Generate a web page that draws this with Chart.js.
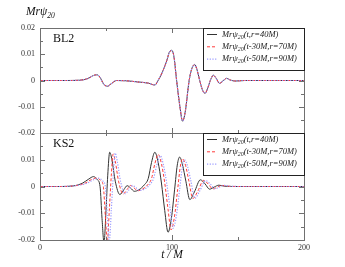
<!DOCTYPE html>
<html>
<head>
<meta charset="utf-8">
<script src="https://cdn.jsdelivr.net/npm/chart.js@4.4.1/dist/chart.umd.min.js"></script>
<style>
    body { margin: 0; background: #fff; }
    #wrap { position: relative; width: 345px; height: 267px; }
    canvas { position: absolute; left: 0; }
    #chartBL { top: 0; }
    #chartKS { top: 121px; }
</style>
</head>
<body>
<div id="wrap">
    <canvas id="chartBL" width="345" height="145"></canvas>
    <canvas id="chartKS" width="345" height="146"></canvas>
</div>
<script>
// BL2 panel: the three extractions lie on top of each other
var blTime = [0, 20, 30, 36, 40, 43, 45.5, 48, 51, 54, 58, 65, 75, 82, 87, 90, 93, 96, 98, 99.8, 101.5, 103.5, 106, 108, 110, 113, 115, 117.2, 119, 121, 123, 125, 127, 129, 131.3, 133.5, 136, 138.5, 141.3, 144, 148, 155, 170, 200];
var blR40 = [0, 0, 0.0001, 0.0007, 0.0018, 0.0022, 0.0012, -0.0012, -0.0022, -0.0012, 0, -0.0001, -0.0006, -0.001, -0.0017, 0.0005, 0.0035, 0.0075, 0.0108, 0.0115, 0.009, 0, -0.01, -0.0155, -0.012, 0, 0.0045, 0.0061, 0.004, 0, -0.0035, -0.0049, -0.003, 0, 0.002, 0.0008, -0.0011, -0.0002, 0.0008, 0.0002, -0.0002, 0, 0, 0];
var blR70 = [0, 0, 0.0001, 0.0007, 0.0018, 0.0022, 0.0012, -0.0012, -0.0022, -0.0012, 0, -0.0001, -0.0006, -0.001, -0.0017, 0.0005, 0.0035, 0.0075, 0.0107, 0.0114, 0.009, 0, -0.01, -0.0154, -0.012, 0, 0.0045, 0.006, 0.004, 0, -0.0035, -0.0049, -0.003, 0, 0.002, 0.0008, -0.0011, -0.0002, 0.0008, 0.0002, -0.0002, 0, 0, 0];
var blR90 = [0, 0, 0.0001, 0.0007, 0.0018, 0.0022, 0.0012, -0.0012, -0.0022, -0.0012, 0, -0.0001, -0.0006, -0.001, -0.0017, 0.0005, 0.0035, 0.0075, 0.0107, 0.0114, 0.009, 0, -0.01, -0.0154, -0.012, 0, 0.0045, 0.006, 0.004, 0, -0.0035, -0.0048, -0.003, 0, 0.002, 0.0008, -0.0011, -0.0002, 0.0008, 0.0002, -0.0002, 0, 0, 0];

// KS2 panel: the extractions drift apart a little
var ksTimeR40 = [0, 15, 25, 32, 37, 40.5, 43.5, 45.5, 47, 48.5, 50, 51.3, 52.8, 54.5, 57, 60.5, 63.5, 66, 68.5, 71.5, 75, 79, 82, 84.5, 87, 89.5, 92, 94.5, 97, 99.5, 102, 104, 105.8, 108, 110.5, 113.5, 117, 121.5, 125, 128.5, 132, 135.5, 140, 150, 170, 200];
var ksR40 = [0, 0, 0.0002, 0.0012, 0.0028, 0.0037, 0.0025, 0, -0.012, -0.021, -0.009, 0.004, 0.0128, 0.010, 0.002, -0.003, -0.0012, 0.0003, -0.0005, -0.0018, -0.0012, 0.0006, 0.003, 0.009, 0.0128, 0.009, 0.0013, -0.009, -0.0171, -0.012, -0.001, 0.008, 0.011, 0.008, 0.002, -0.0049, -0.002, 0.0025, 0.001, -0.001, -0.0002, 0.0005, 0.0001, 0, 0, 0];
var ksTimeR70 = [0, 15, 25, 34, 39, 43, 46, 48, 49.5, 51, 52.5, 54, 55.4, 57, 59.5, 63, 66, 68.5, 71, 74, 77.5, 81.5, 84.5, 87, 89.6, 92, 94.5, 97, 99.3, 101.8, 104.3, 106.3, 108, 110.3, 112.8, 115.8, 119.5, 124, 127.5, 131, 134.5, 138, 142.5, 152, 170, 200];
var ksR70 = [0, 0, 0.0002, 0.0012, 0.0026, 0.0032, 0.0022, 0, -0.011, -0.0205, -0.009, 0.004, 0.0122, 0.0095, 0.002, -0.0028, -0.0011, 0.0004, -0.0004, -0.0016, -0.001, 0.0006, 0.003, 0.0085, 0.012, 0.0085, 0.0013, -0.0085, -0.0162, -0.0115, -0.001, 0.0075, 0.0104, 0.0078, 0.002, -0.0045, -0.0018, 0.0023, 0.0009, -0.0009, -0.0002, 0.0004, 0.0001, 0, 0, 0];
var ksTimeR90 = [0, 15, 25, 35.5, 40.5, 44.5, 47.5, 49.5, 51, 52.5, 54, 55.5, 57, 58.5, 61, 64.5, 67.5, 70, 72.5, 75.5, 79, 83, 86, 88.5, 91.2, 93.5, 96, 98.5, 100.8, 103.3, 105.8, 107.8, 109.5, 111.8, 114.3, 117.3, 121, 125.5, 129, 132.5, 136, 139.5, 144, 153, 170, 200];
var ksR90 = [0, 0, 0.0002, 0.0012, 0.0025, 0.0031, 0.0021, 0, -0.011, -0.0205, -0.009, 0.004, 0.0125, 0.0095, 0.002, -0.0027, -0.0011, 0.0004, -0.0004, -0.0015, -0.001, 0.0006, 0.003, 0.008, 0.0115, 0.008, 0.0012, -0.008, -0.0156, -0.011, -0.001, 0.0072, 0.0100, 0.0075, 0.002, -0.0044, -0.0017, 0.0022, 0.0009, -0.0009, -0.0002, 0.0004, 0.0001, 0, 0, 0];

var seriesLabels = ['Mr\u03c820(t,r=40M)', 'Mr\u03c820(t-30M,r=70M)', 'Mr\u03c820(t-50M,r=90M)'];
var xMajor = [0, 100, 200];
var xMinor = [50, 150];
var yMajor = [-0.02, -0.01, 0, 0.01, 0.02];
var yMinor = [-0.015, -0.005, 0.005, 0.015];

var serif = '"Liberation Serif", "Times New Roman", serif';

function pairs(t, v) {
    var out = [];
    for (var i = 0; i < t.length; i++) {
        out.push({ x: t[i], y: v[i] });
    }
    return out;
}

function makeSets(list) {
    var styles = [
        { borderColor: '#333333', borderDash: [], borderWidth: 1, order: 3 },
        { borderColor: '#ff3b3b', borderDash: [3, 2], borderWidth: 1, order: 2 },
        { borderColor: '#9a9aff', borderDash: [1.2, 1.5], borderWidth: 1.2, order: 1 }
    ];
    return list.map(function (d, i) {
        return {
            label: seriesLabels[i],
            data: d,
            borderColor: styles[i].borderColor,
            borderDash: styles[i].borderDash,
            borderWidth: styles[i].borderWidth,
            order: styles[i].order,
            pointRadius: 0,
            fill: false,
            cubicInterpolationMode: 'monotone'
        };
    });
}

// xmgrace-like frame with inward ticks on all four sides
var frameTicks = {
    id: 'frameTicks',
    afterDatasetsDraw: function (chart) {
        var ctx = chart.ctx, a = chart.chartArea;
        var xs = chart.scales.x, ys = chart.scales.y;
        ctx.save();
        ctx.strokeStyle = '#707070';
        ctx.lineWidth = 1;
        ctx.strokeRect(Math.round(a.left) + 0.5, Math.round(a.top) + 0.5, Math.round(a.right - a.left), Math.round(a.bottom - a.top));
        ctx.beginPath();
        function xTick(v, len) {
            var px = Math.round(xs.getPixelForValue(v)) + 0.5;
            ctx.moveTo(px, a.bottom); ctx.lineTo(px, a.bottom - len);
            ctx.moveTo(px, a.top); ctx.lineTo(px, a.top + len);
        }
        function yTick(v, len) {
            var py = Math.round(ys.getPixelForValue(v)) + 0.5;
            ctx.moveTo(a.left, py); ctx.lineTo(a.left + len, py);
            ctx.moveTo(a.right, py); ctx.lineTo(a.right - len, py);
        }
        xMajor.forEach(function (v) { xTick(v, 5); });
        xMinor.forEach(function (v) { xTick(v, 3); });
        yMajor.forEach(function (v) { yTick(v, 5); });
        yMinor.forEach(function (v) { yTick(v, 3); });
        ctx.stroke();
        ctx.restore();
    }
};

function drawPsi(ctx, x, y, size, subSize, rest) {
    ctx.font = 'italic ' + size + 'px ' + serif;
    ctx.fillText('Mr\u03c8', x, y);
    x += ctx.measureText('Mr\u03c8').width;
    ctx.font = 'italic ' + subSize + 'px ' + serif;
    ctx.fillText('20', x, y + size * 0.3);
    x += ctx.measureText('20').width;
    if (rest) {
        ctx.font = 'italic ' + size + 'px ' + serif;
        ctx.fillText(rest, x, y);
    }
}

// legend box in the upper right corner of each panel, plus the panel name
var insetLegend = {
    id: 'insetLegend',
    afterDraw: function (chart) {
        var ctx = chart.ctx, a = chart.chartArea;
        var bx = Math.round(a.left + (a.right - a.left) * 0.618);
        var by = Math.round(a.top);
        var bw = Math.round(a.right) - bx, bh = 42;
        ctx.save();
        ctx.fillStyle = '#fff';
        ctx.fillRect(bx, by, bw, bh);
        ctx.strokeStyle = '#222';
        ctx.lineWidth = 1;
        ctx.strokeRect(bx + 0.5, by + 0.5, bw, bh);
        ctx.textBaseline = 'middle';
        chart.data.datasets.forEach(function (ds, i) {
            var ry = by + 6.5 + i * 12.3;
            ctx.strokeStyle = ds.borderColor;
            ctx.lineWidth = ds.borderWidth;
            ctx.setLineDash(ds.borderDash);
            ctx.beginPath();
            ctx.moveTo(bx + 4, ry);
            ctx.lineTo(bx + 14, ry);
            ctx.stroke();
            ctx.setLineDash([]);
            ctx.fillStyle = '#222';
            drawPsi(ctx, bx + 19, ry, 8.5, 6, ds.label.slice(5));
        });
        ctx.fillStyle = '#111';
        ctx.font = '12px ' + serif;
        ctx.fillText(chart.options.plugins.insetLegend.name, a.left + 13, a.top + 11);
        if (chart.options.plugins.insetLegend.title) {
            ctx.textBaseline = 'alphabetic';
            drawPsi(ctx, a.left - 14, a.top - 13, 11.5, 7.5, '');
        }
        ctx.restore();
    }
};

function tickLabel(v) {
    if (Math.abs(v) < 1e-9) return '0';
    return v.toFixed(2);
}

function panelOptions(name, isTop) {
    return {
        responsive: false,
        animation: false,
        events: [],
        layout: { padding: { top: isTop ? 28 : 12, bottom: isTop ? 12 : 0, left: 0, right: 41 } },
        plugins: {
            legend: { display: false },
            tooltip: { enabled: false },
            insetLegend: { name: name, title: isTop }
        },
        scales: {
            x: {
                type: 'linear',
                min: 0,
                max: 200,
                display: !isTop,
                grid: { display: false, drawTicks: false },
                border: { display: false },
                ticks: {
                    stepSize: 100,
                    padding: 3,
                    color: '#333',
                    font: { family: serif, size: 8 }
                },
                title: {
                    display: true,
                    text: 't / M',
                    color: '#111',
                    padding: { top: 0, bottom: 5 },
                    font: { family: serif, size: 11.5, style: 'italic' }
                },
                afterFit: function (scale) { scale.height = isTop ? 0 : 27; }
            },
            y: {
                min: -0.02,
                max: 0.02,
                grid: { display: false, drawTicks: false },
                border: { display: false },
                ticks: {
                    stepSize: 0.01,
                    padding: 5,
                    color: '#333',
                    font: { family: serif, size: 8 },
                    callback: function (v) {
                        if (!isTop && v > 0.015) return '';
                        return tickLabel(v);
                    }
                },
                afterFit: function (scale) { scale.width = 40; }
            }
        }
    };
}

var chartBL = new Chart(document.getElementById('chartBL').getContext('2d'), {
    type: 'line',
    plugins: [frameTicks, insetLegend],
    data: {
        datasets: makeSets([pairs(blTime, blR40), pairs(blTime, blR70), pairs(blTime, blR90)])
    },
    options: panelOptions('BL2', true)
});

var chartKS = new Chart(document.getElementById('chartKS').getContext('2d'), {
    type: 'line',
    plugins: [frameTicks, insetLegend],
    data: {
        datasets: makeSets([pairs(ksTimeR40, ksR40), pairs(ksTimeR70, ksR70), pairs(ksTimeR90, ksR90)])
    },
    options: panelOptions('KS2', false)
});
</script>
</body>
</html>
